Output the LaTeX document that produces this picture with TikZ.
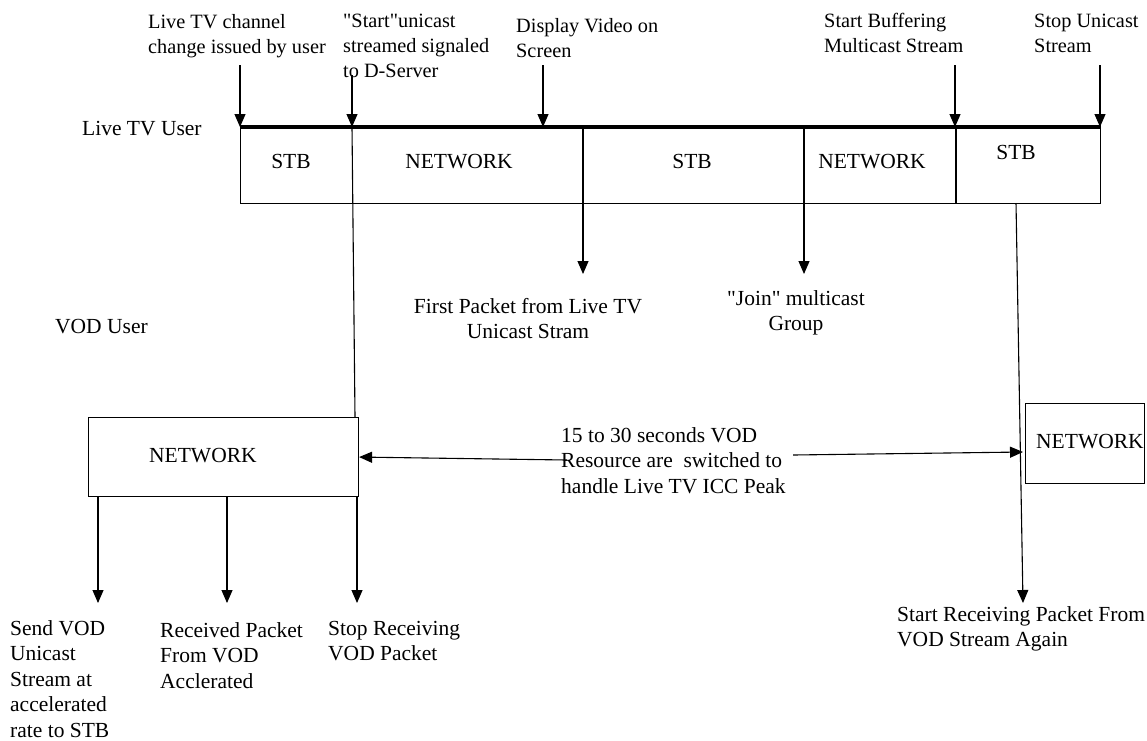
\documentclass[tikz,border=0pt]{standalone}
\usepackage{fontspec}
\setmainfont{Liberation Serif}
\usetikzlibrary{arrows.meta}

\tikzset{
  lbl/.style={anchor=base west, align=left, inner sep=0pt},
  clbl/.style={anchor=base, align=center, inner sep=0pt},
  toplbl/.style={lbl, font=\fontsize{20.3}{25}\selectfont},
  box/.style={draw, line width=1.1pt, inner sep=0pt, anchor=north west},
  flow/.style={-{Triangle[width=11pt,length=13pt]}, line width=1.1pt},
}

\begin{document}
\begin{tikzpicture}[x=1pt, y=-1pt, font=\fontsize{21.5}{25.5}\selectfont]
\useasboundingbox (0,0) rectangle (1147,740);

% live tv user strip (multi-line labels are placed at their last baseline)
\node[box, minimum width=860pt, minimum height=76pt] (live) at (240,127) {};
\draw[line width=3.5pt] (live.north west) -- (live.north east);
\node[lbl] (lvuser) at (82,135) {Live TV User};
\node[lbl] (voduser) at (55,333) {VOD User};
\node[clbl] (stba) at (291,168) {STB};
\node[clbl] (neta) at (459,168) {NETWORK};
\node[clbl] (stbb) at (692,168) {STB};
\node[clbl] (netb) at (872,168) {NETWORK};
\node[clbl] (stbc) at (1016,159) {STB};

% events on top
\node[toplbl] (chg) at (148,53) {Live TV channel\\change issued by user};
\node[toplbl] (start) at (343,77) {\textquotedbl Start\textquotedbl unicast\\streamed signaled\\to D-Server};
\node[toplbl] (disp) at (516,57) {Display Video on\\Screen};
\node[toplbl] (buf) at (824,52) {Start Buffering\\Multicast Stream};
\node[toplbl] (stopu) at (1034,52) {Stop Unicast\\Stream};

\coordinate (s1) at (240,65);  \coordinate (e1) at (240,127);
\coordinate (s2) at (352,75);  \coordinate (e2) at (352,127);
\coordinate (s3) at (543,65);  \coordinate (e3) at (543,127);
\coordinate (s4) at (955,65);  \coordinate (e4) at (955,127);
\coordinate (s5) at (1100,65); \coordinate (e5) at (1100,127);
\foreach \i in {1,...,5}
  \draw[flow] (s\i) -- (e\i);

% dividers and drops
\coordinate (d1) at (583,127); \coordinate (f1) at (583,274);
\coordinate (d2) at (804,127); \coordinate (f2) at (804,274);
\coordinate (d3) at (956,127); \coordinate (f3) at (956,203);
\draw[flow] (d1) -- (f1);
\draw[flow] (d2) -- (f2);
\draw[line width=1.1pt] (d3) -- (f3);
\node[clbl] (first) at (528,338.5) {First Packet from Live TV\\Unicast Stram};
\node[clbl] (join) at (796,330.5) {\textquotedbl Join\textquotedbl{} multicast\\Group};

% vod side
\node[box, minimum width=270pt, minimum height=79pt] (vnet) at (88,417) {};
\node[lbl] (vnetlbl) at (149,462) {NETWORK};
\node[box, minimum width=119pt, minimum height=80pt] (rnet) at (1025,403) {};
\node[lbl] (rnetlbl) at (1036,448) {NETWORK};
\coordinate (v2) at (355,417);
\draw[line width=1.1pt] (e2) -- (v2);

\node[lbl] (peak) at (561,493) {15 to 30 seconds VOD\\Resource are\ \ switched to\\handle Live TV ICC Peak};
\coordinate (pl) at (567,460);
\coordinate (pr) at (793,455);
\coordinate (rt) at (1023,452);
\draw[flow] (pl) -- (vnet.east);
\draw[flow] (pr) -- (rt);

\coordinate (r0) at (1016,203); \coordinate (r1) at (1023,603);
\draw[flow] (r0) -- (r1);

\foreach \x/\n in {98/a,227/b,357/c}{
  \coordinate (o\n) at (\x,496);
  \coordinate (p\n) at (\x,603);
  \draw[flow] (o\n) -- (p\n);
}

\node[lbl] (send) at (10,737) {Send VOD\\Unicast\\Stream at\\accelerated\\rate to STB};
\node[lbl] (recv) at (160,688) {Received Packet\\From VOD\\Acclerated};
\node[lbl] (stopr) at (328,660.5) {Stop Receiving\\VOD Packet};
\node[lbl] (again) at (897,646.5) {Start Receiving Packet From\\VOD Stream Again};
\end{tikzpicture}
\end{document}
